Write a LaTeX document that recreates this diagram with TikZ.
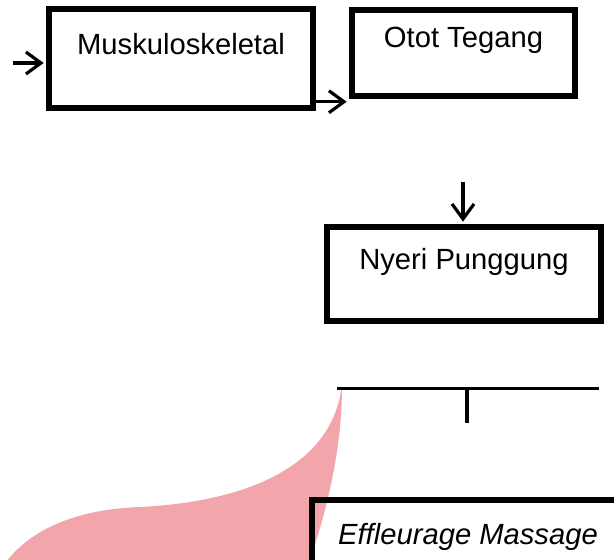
\documentclass[tikz,border=0pt]{standalone}
\usepackage{fontspec}
\setmainfont{Liberation Sans}
\usepackage{tikz}
\usetikzlibrary{arrows.meta,positioning,calc}
\definecolor{merahMuda}{RGB}{242,165,170}

\begin{document}
\begin{tikzpicture}[x=0.5pt,y=-0.5pt,font=\fontsize{14.6}{17}\selectfont,
  kotak/.style={rectangle,draw=black,line width=2.75pt,inner sep=0pt,
                 text centered},
  panah/.style={line width=1.6pt,-{Straight Barb[length=7.5pt,width=11pt,line width=1.6pt]}}]

  \useasboundingbox (0,0) rectangle (614,560);
  \clip (0,0) rectangle (614,560);

  \fill[merahMuda] (342,385) .. controls (332,470) and (240,502) .. (140,507)
    .. controls (60,510) and (10,540) .. (-10,590) -- (300,590)
    .. controls (332,500) and (342,440) .. (342,385) -- cycle;

  \node[kotak,minimum width=132pt,text height=23pt,text depth=26.5pt] (musk) at (181,58.5)
    {Muskuloskeletal};
  \node[kotak,minimum width=111.5pt,text height=19pt,text depth=24pt] (otot) at (463.5,53)
    {Otot Tegang};
  \node[kotak,minimum width=137pt,text height=21.5pt,text depth=25.5pt] (nyeri) at (464,274)
    {Nyeri Punggung};
  \node[kotak,minimum width=156pt,text height=22pt,text depth=28pt] (masase) at (468,550)
    {\itshape Effleurage Massage};

  \coordinate (awal) at (13,63);
  \coordinate (atas) at (463,182);
  \coordinate (garisKiri) at (337,388);
  \coordinate (garisKanan) at (599,388);
  \coordinate (garisTengah) at (467,388);
  \coordinate (garisBawah) at (467,423);

  \draw[panah,shorten >=1.3pt] (awal) -- (awal -| musk.west);
  \draw[panah,shorten >=1.3pt] ([yshift=4.5pt]musk.south east)
    -- ([yshift=4.5pt]musk.south east -| otot.west);
  \draw[panah,shorten >=1.3pt] (atas) -- (atas |- nyeri.north);
  \draw[line width=1.5pt] (garisKiri) -- (garisKanan);
  \draw[line width=2pt] (garisTengah) -- (garisBawah);
\end{tikzpicture}
\end{document}
